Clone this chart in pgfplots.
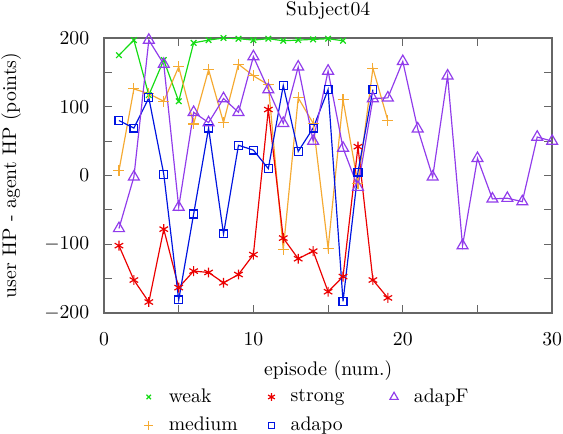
\documentclass[border=0pt]{standalone}
\usepackage{pgfplots}
\pgfplotsset{compat=1.18}
\definecolor{cweak}{RGB}{20,220,20}
\definecolor{cmed}{RGB}{245,170,50}
\definecolor{cstrong}{RGB}{235,0,0}
\definecolor{cadapo}{RGB}{0,20,225}
\definecolor{cadapf}{RGB}{145,60,235}
\begin{document}
\begin{tikzpicture}
\useasboundingbox (-52.8pt,-61.4pt) rectangle (233pt,158.9pt);
\begin{axis}[
  scale only axis, width=227.5pt, height=139.6pt,
  at={(0,0)}, anchor=south west,
  xmin=0, xmax=30, ymin=-200, ymax=200,
  xtick={0,10,20,30}, minor xtick={5,15,25},
  ytick={-200,-100,0,100,200}, minor ytick={-150,-50,50,150},
  tick align=inside, tick pos=both,
  major tick length=4pt, minor tick length=4pt,
  axis line style={gray!80!black, line width=0.8pt},
  tick style={gray!80!black, line width=0.6pt},
  xticklabel pos=bottom, yticklabel pos=left,
  xticklabel style={yshift=-6.6pt},
  yticklabel style={xshift=-4pt},
  title={Subject04},
  xlabel={episode (num.)},
  ylabel={user HP - agent HP (points)},
  xlabel style={yshift=-1pt},
  ylabel style={yshift=5pt},
  every axis plot/.append style={line width=0.6pt},
  legend style={at={(0.076,-0.245)}, anchor=north west, draw=none, fill=none,
    /tikz/every even column/.append style={column sep=9.4pt},
    row sep=2pt},
  legend columns=3,
  legend cell align=left,
]
\addplot[cweak, mark=x, mark size=2pt, forget plot] coordinates {
  (1,175)(2,197)(3,117)(4,168)(5,108)(6,193)(7,197)(8,200)(9,199)(10,197)
  (11,199)(12,196)(13,197)(14,198)(15,199)(16,196)
};
\addplot[cmed, mark=+, mark size=2.8pt, forget plot] coordinates {
  (1,7)(2,126)(3,119)(4,108)(5,158)(6,75)(7,154)(8,77)(9,162)(10,145)
  (11,132)(12,-108)(13,113)(14,76)(15,-106)(16,110)(17,-12)(18,156)(19,80)
};
\addplot[cstrong, mark=asterisk, mark size=2.5pt, forget plot] coordinates {
  (1,-102)(2,-152)(3,-184)(4,-78)(5,-163)(6,-139)(7,-141)(8,-156)(9,-144)(10,-115)
  (11,96)(12,-91)(13,-121)(14,-110)(15,-169)(16,-147)(17,42)(18,-152)(19,-178)
};
\addplot[cadapo, mark=square, mark size=2pt, forget plot] coordinates {
  (1,80)(2,69)(3,113)(4,2)(5,-181)(6,-56)(7,69)(8,-85)(9,44)(10,37)
  (11,10)(12,131)(13,35)(14,69)(15,125)(16,-183)(17,5)(18,125)
};
\addplot[cadapf, mark=triangle, mark size=3.2pt, forget plot] coordinates {
  (1,-77)(2,-2)(3,197)(4,162)(5,-46)(6,92)(7,77)(8,112)(9,92)(10,173)
  (11,125)(12,76)(13,158)(14,50)(15,152)(16,40)(17,-17)(18,112)(19,113)(20,166)
  (21,68)(22,-2)(23,145)(24,-102)(25,25)(26,-34)(27,-33)(28,-38)(29,56)(30,50)
};
\addlegendimage{only marks, cweak, mark=x, mark size=1.6pt}
\addlegendentry{\makebox[45pt][l]{\hspace*{6pt}weak}}
\addlegendimage{only marks, cstrong, mark=asterisk, mark size=2pt}
\addlegendentry{\makebox[45pt][l]{\hspace*{6pt}strong}}
\addlegendimage{only marks, cadapf, mark=triangle, mark size=2.4pt}
\addlegendentry{\makebox[45pt][l]{\hspace*{6pt}adapF}}
\addlegendimage{only marks, cmed, mark=+, mark size=2.2pt}
\addlegendentry{\makebox[45pt][l]{\hspace*{6pt}medium}}
\addlegendimage{only marks, cadapo, mark=square, mark size=1.6pt}
\addlegendentry{\makebox[45pt][l]{\hspace*{6pt}adapo}}
\end{axis}
\end{tikzpicture}
\end{document}
